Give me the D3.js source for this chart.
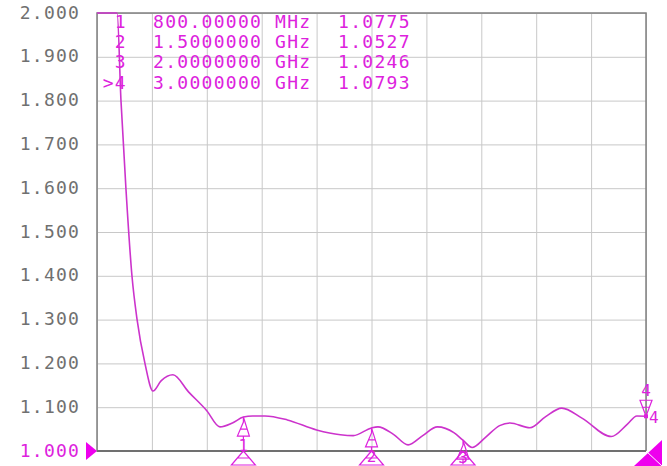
<!DOCTYPE html>
<html>
<head>
<meta charset="utf-8">
<script src="https://cdn.jsdelivr.net/npm/d3@7"></script>
<style>
  html, body { margin: 0; padding: 0; background: #fff; }
  svg { display: block; }
  text { font-family: "DejaVu Sans Mono", monospace; }
</style>
</head>
<body>
<div id="chart"></div>
<script>
// trace (frequency in GHz, SWR)
const freqs = [0, 0.08, 0.11, 0.131, 0.158, 0.191, 0.219, 0.262, 0.306, 0.35, 0.415, 0.5, 0.6, 0.672, 0.74, 0.8, 0.85, 0.918, 1.04, 1.2, 1.33, 1.4, 1.5, 1.535, 1.62, 1.70, 1.78, 1.86, 1.95, 2.0, 2.05, 2.12, 2.2, 2.257, 2.366, 2.45, 2.54, 2.65, 2.81, 2.9, 2.95, 3.0];
const swr = [2.6, 2.2, 2.0, 1.80, 1.60, 1.40, 1.30, 1.20, 1.137, 1.16, 1.174, 1.135, 1.092, 1.055, 1.064, 1.0775, 1.08, 1.08, 1.071, 1.048, 1.037, 1.035, 1.0527, 1.055, 1.038, 1.014, 1.035, 1.055, 1.042, 1.0246, 1.008, 1.03, 1.058, 1.064, 1.053, 1.078, 1.098, 1.075, 1.033, 1.062, 1.08, 1.0793];

// y ticks
const yTicks = [1.0, 1.1, 1.2, 1.3, 1.4, 1.5, 1.6, 1.7, 1.8, 1.9, 2.0];
const xTicks = [0, 0.3, 0.6, 0.9, 1.2, 1.5, 1.8, 2.1, 2.4, 2.7, 3.0];

// markers
const markerIds = ["1", "2", "3", "4"];
const markerFreq = [0.8, 1.5, 2.0, 3.0];
const markerVal = [1.0775, 1.0527, 1.0246, 1.0793];
const markerFreqText = ["800.00000", "1.5000000", "2.0000000", "3.0000000"];
const markerUnits = ["MHz", "GHz", "GHz", "GHz"];
const activeMarker = 3;

const W = 667, H = 466;
const mag = "#dd22dd";
const traceCol = "#cc33cc";

const x = d3.scaleLinear().domain([0, 3]).range([97, 646]);
const y = d3.scaleLinear().domain([1, 2]).range([451, 13]).clamp(true);

const svg = d3.select("#chart").append("svg")
    .attr("width", W)
    .attr("height", H);

// grilla
svg.append("g")
    .attr("transform", "translate(0,451)")
    .call(d3.axisBottom(x).tickValues(xTicks).tickSize(-438).tickFormat(""))
    .call(g => g.select(".domain").remove())
    .call(g => g.selectAll("line").attr("stroke", "#c8c8c8").attr("stroke-width", 1));

svg.append("g")
    .attr("transform", "translate(97,0)")
    .call(d3.axisLeft(y).tickValues(yTicks).tickSize(-549).tickFormat(""))
    .call(g => g.select(".domain").remove())
    .call(g => g.selectAll("line").attr("stroke", "#c8c8c8").attr("stroke-width", 1));

// marco
svg.append("rect")
    .attr("x", 97).attr("y", 13)
    .attr("width", 549).attr("height", 438)
    .attr("fill", "none")
    .attr("stroke", "#808080")
    .attr("stroke-width", 1.5);
svg.append("line")
    .attr("x1", 97).attr("x2", 646)
    .attr("y1", 451).attr("y2", 451)
    .attr("stroke", "#707070").attr("stroke-width", 2);

// etiquetas eje y
svg.append("g")
    .attr("transform", "translate(97,0)")
    .call(d3.axisLeft(y).tickValues(yTicks).tickSize(0).tickPadding(17).tickFormat(d3.format(".3f")))
    .call(g => g.select(".domain").remove())
    .call(g => g.selectAll("text")
        .attr("dy", "0.28em")
        .style("font-family", "'DejaVu Sans Mono', monospace")
        .style("font-size", "18px")
        .style("letter-spacing", "1.2px")
        .attr("fill", d => d === 1 ? mag : "#707070"));

// traza
const points = freqs.map((f, i) => ({ f: f, v: swr[i] }));
svg.append("path")
    .datum(points)
    .attr("fill", "none")
    .attr("stroke", traceCol)
    .attr("stroke-width", 1.6)
    .attr("d", d3.line().x(d => x(d.f)).y(d => y(d.v)).curve(d3.curveMonotoneX));

// tabla de marcadores
const rowY = [28, 48, 68, 89];
markerIds.forEach((id, i) => {
    const g = svg.append("g")
        .attr("fill", mag)
        .style("font-size", "18px")
        .style("letter-spacing", "1.3px");
    g.append("text").attr("x", 127).attr("y", rowY[i]).attr("text-anchor", "end")
        .text((i === activeMarker ? ">" : "") + id);
    g.append("text").attr("x", 153).attr("y", rowY[i]).text(markerFreqText[i]);
    g.append("text").attr("x", 275).attr("y", rowY[i]).text(markerUnits[i]);
    g.append("text").attr("x", 338).attr("y", rowY[i]).text(d3.format(".4f")(markerVal[i]));
});

// simbolos de marcador
markerIds.forEach((id, i) => {
    const mx = x(markerFreq[i]);
    const my = y(markerVal[i]);
    const g = svg.append("g").attr("stroke", mag).attr("fill", "none").attr("stroke-width", 1.2);
    if (i !== activeMarker) {
        g.append("path").attr("d",
            `M${mx},${my}V${my + 5}L${mx - 6},${my + 19}H${mx + 6}Z M${mx - 3.5},${my + 12}H${mx + 3.5} M${mx},${my + 19}V${my + 24}`);
        g.append("text").attr("x", mx).attr("y", Math.min(my + 34, 463))
            .attr("text-anchor", "middle").attr("stroke", "none").attr("fill", mag)
            .style("font-size", "16px").text(id);
        g.append("path").attr("d",
            `M${mx},451L${mx - 12},465H${mx + 12}Z M${mx - 6},458H${mx + 6}`);
    } else {
        g.append("path").attr("d",
            `M${mx},${my}L${mx - 6},${my - 16}H${mx + 6}Z M${mx - 3.5},${my - 9}H${mx + 3.5}`);
        g.append("rect").attr("x", mx - 2).attr("y", my - 2).attr("width", 4).attr("height", 4)
            .attr("fill", mag).attr("stroke", "none");
        g.append("text").attr("x", mx).attr("y", my - 20)
            .attr("text-anchor", "middle").attr("stroke", "none").attr("fill", mag)
            .style("font-size", "16px").text(id);
        g.append("text").attr("x", mx + 3).attr("y", my + 7)
            .attr("stroke", "none").attr("fill", mag)
            .style("font-size", "16px").text(id);
    }
});

// referencia izquierda y esquina derecha
svg.append("path")
    .attr("d", `M86,${y(1) - 9}L97,${y(1)}L86,${y(1) + 9}Z`)
    .attr("fill", "#ee00ee");
svg.append("path")
    .attr("d", `M634,466L662,466L662,440Z`)
    .attr("fill", "#ee00ee");
svg.append("line")
    .attr("x1", 646).attr("x2", 662).attr("y1", 451).attr("y2", 466)
    .attr("stroke", "#ffffff").attr("stroke-width", 1);
</script>
</body>
</html>
